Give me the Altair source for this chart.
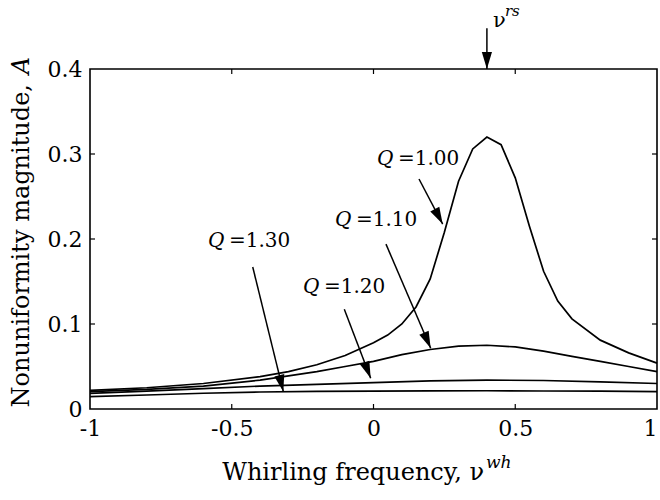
import math
import altair as alt
import pandas as pd

# ---- data ----
nu_q100 = [-1.0, -0.8, -0.6, -0.4, -0.3, -0.2, -0.1, 0.0, 0.05, 0.1, 0.15, 0.2, 0.25, 0.3, 0.35, 0.4,
           0.45, 0.5, 0.55, 0.6, 0.65, 0.7, 0.8, 0.9, 1.0]
a_q100 = [0.022, 0.025, 0.030, 0.038, 0.044, 0.052, 0.063, 0.078, 0.087, 0.100, 0.120, 0.153, 0.208,
          0.268, 0.306, 0.320, 0.311, 0.272, 0.215, 0.162, 0.127, 0.106, 0.081, 0.066, 0.054]
nu_q110 = [-1.0, -0.8, -0.6, -0.4, -0.3, -0.2, -0.1, 0.0, 0.1, 0.2, 0.3, 0.4, 0.5, 0.6, 0.7, 0.8, 0.9, 1.0]
a_q110 = [0.0205, 0.023, 0.027, 0.034, 0.039, 0.044, 0.050, 0.056, 0.064, 0.070, 0.074, 0.075,
          0.073, 0.068, 0.062, 0.056, 0.050, 0.044]
nu_q120 = [-1.0, -0.8, -0.6, -0.4, -0.2, 0.0, 0.2, 0.4, 0.6, 0.8, 1.0]
a_q120 = [0.0184, 0.021, 0.024, 0.027, 0.029, 0.031, 0.033, 0.034, 0.0335, 0.032, 0.030]
nu_q130 = [-1.0, -0.8, -0.6, -0.4, -0.2, 0.0, 0.2, 0.4, 0.6, 0.8, 1.0]
a_q130 = [0.0145, 0.0165, 0.0185, 0.020, 0.0207, 0.021, 0.0213, 0.0215, 0.0212, 0.021, 0.0204]

q_names = ["1.00", "1.10", "1.20", "1.30"]

# annotation arrows (start -> end, data coords)
arrow_x0 = [0.1605, 0.044, -0.103, -0.426, 0.40]
arrow_y0 = [0.2706, 0.194, 0.1173, 0.167, 0.448]
arrow_x1 = [0.244, 0.2017, -0.010, -0.318, 0.40]
arrow_y1 = [0.2176, 0.0714, 0.0361, 0.0204, 0.400]

# label anchors (left, baseline) in data coords
label_x = [0.0123, -0.136, -0.249, -0.584]
label_y = [0.287, 0.2153, 0.1365, 0.1906]

x_ticks = [-1, -0.5, 0, 0.5, 1]
y_ticks = [0, 0.1, 0.2, 0.3, 0.4]
x_inner_ticks = [-0.5, 0, 0.5]
y_inner_ticks = [0.1, 0.2, 0.3]

W, H = 567, 340
FONT = "DejaVu Serif"

rows = []
for q, xs_, ys_ in zip(q_names, [nu_q100, nu_q110, nu_q120, nu_q130],
                       [a_q100, a_q110, a_q120, a_q130]):
    for a, b in zip(xs_, ys_):
        rows.append({"Q": q, "nu": a, "A": b})
curves = pd.DataFrame(rows)

arr = pd.DataFrame({"x0": arrow_x0, "y0": arrow_y0, "x1": arrow_x1, "y1": arrow_y1})
def head_angle(r):
    dx = (r.x1 - r.x0) * W / 2.0
    dy = -(r.y1 - r.y0) * H / 0.4
    return math.degrees(math.atan2(-dx, dy)) % 360
arr["ang"] = arr.apply(head_angle, axis=1)

labels = pd.DataFrame({"x": label_x, "y": label_y, "q": "Q", "rest": ["=" + q for q in q_names]})

xs = alt.Scale(domain=[-1, 1], nice=False, zero=False)
ys = alt.Scale(domain=[0, 0.4], nice=False, zero=False)
xaxis = alt.Axis(values=x_ticks, title=None, domain=False, ticks=False, grid=False,
                 labelExpr="(datum.value < 0 ? '-' : '') + format(abs(datum.value), '~g')",
                 labelFont=FONT, labelFontSize=22, labelColor="black", labelPadding=9,
                 labelFlush=False, labelOverlap=False,
                 labelAlign={"condition": {"test": "datum.value == 1", "value": "right"},
                             "value": "center"})
yaxis = alt.Axis(values=y_ticks, title=None, domain=False, ticks=False, grid=False,
                 labelExpr="datum.value == 0 ? '0' : format(datum.value, '.1f')",
                 labelFont=FONT, labelFontSize=22, labelColor="black", labelPadding=8,
                 labelFlush=False, labelOverlap=False)

def X(f):
    return alt.X(f, type="quantitative", scale=xs, axis=xaxis)
def Y(f):
    return alt.Y(f, type="quantitative", scale=ys, axis=yaxis)

lines = alt.Chart(curves).mark_line(color="black", strokeWidth=1.7).encode(
    x=X("nu"), y=Y("A"), detail="Q:N")

shafts = alt.Chart(arr).mark_rule(color="black", strokeWidth=1.5).encode(
    x=X("x0"), y=Y("y0"), x2="x1", y2="y1")

heads = alt.Chart(arr).mark_point(
    shape="M0,0L-0.3,-1L0.3,-1Z", filled=True, color="black", opacity=1, size=1150,
    strokeWidth=0).encode(x=X("x1"), y=Y("y1"), angle=alt.Angle("ang:Q", scale=None))

qtext = alt.Chart(labels).mark_text(font=FONT, fontSize=20, fontStyle="italic", align="left",
                                    baseline="alphabetic", color="black").encode(
    x=X("x"), y=Y("y"), text="q:N")
rtext = alt.Chart(labels).mark_text(font=FONT, fontSize=20, align="left", dx=21,
                                    baseline="alphabetic", color="black").encode(
    x=X("x"), y=Y("y"), text="rest:N")

nu_rs = pd.DataFrame({"x": [0.4], "y": [0.4494], "y2": [0.4624]})
nu_main = alt.Chart(nu_rs).mark_text(font=FONT, fontSize=21, align="left", dx=6,
                                     baseline="alphabetic", color="black", text="\u03bd").encode(
    x=X("x"), y=Y("y"))
nu_sup = alt.Chart(nu_rs).mark_text(font=FONT, fontSize=15, fontStyle="italic", align="left", dx=18,
                                    baseline="alphabetic", color="black", text="rs").encode(
    x=X("x"), y=Y("y2"))

# frame ticks (inward)
xt = pd.DataFrame({"v": x_inner_ticks})
yt = pd.DataFrame({"v": y_inner_ticks})
tb = alt.Chart(xt).mark_rule(color="black", strokeWidth=1.2).encode(
    x=X("v"), y=alt.value(H), y2=alt.value(H - 5))
tt = alt.Chart(xt).mark_rule(color="black", strokeWidth=1.2).encode(
    x=X("v"), y=alt.value(0), y2=alt.value(5))
tl = alt.Chart(yt).mark_rule(color="black", strokeWidth=1.2).encode(
    y=Y("v"), x=alt.value(0), x2=alt.value(5))
tr = alt.Chart(yt).mark_rule(color="black", strokeWidth=1.2).encode(
    y=Y("v"), x=alt.value(W), x2=alt.value(W - 5))

# axis titles as text
title_df = pd.DataFrame({"a": [0]})
xt_main = alt.Chart(title_df).mark_text(font=FONT, fontSize=24, align="right", baseline="alphabetic",
                                        color="black", text="Whirling frequency, \u03bd").encode(
    x=alt.value(394), y=alt.value(411))
xt_sup = alt.Chart(title_df).mark_text(font=FONT, fontSize=17, fontStyle="italic", align="left",
                                       baseline="alphabetic", color="black", text="wh").encode(
    x=alt.value(396), y=alt.value(399))
yt_main = alt.Chart(title_df).mark_text(font=FONT, fontSize=24, align="right", baseline="middle",
                                        angle=270, color="black",
                                        text="Nonuniformity magnitude,").encode(
    x=alt.value(-68), y=alt.value(15))
yt_sup = alt.Chart(title_df).mark_text(font=FONT, fontSize=24, fontStyle="italic", align="right",
                                       baseline="middle", angle=270, color="black", text="A").encode(
    x=alt.value(-68), y=alt.value(-12))

chart = alt.layer(lines, shafts, heads, qtext, rtext, nu_main, nu_sup, tb, tt, tl, tr,
                  xt_main, xt_sup, yt_main, yt_sup).properties(
    width=W, height=H,
    autosize=alt.AutoSizeParams(type="none"),
    padding={"left": 90, "top": 69, "right": 3, "bottom": 91},
    background="white",
).configure_view(stroke="black", strokeWidth=1.6)

chart.save("out.html", embed_options={"renderer": "svg", "actions": False})
